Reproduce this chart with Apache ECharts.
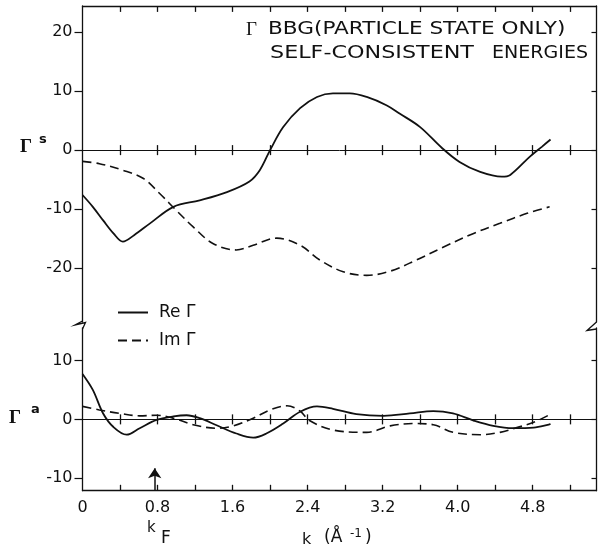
<!DOCTYPE html>
<html>
<head>
<meta charset="utf-8">
<script src="https://cdn.jsdelivr.net/npm/echarts@6/dist/echarts.min.js"></script>
<style>
  html, body { margin: 0; padding: 0; background: #ffffff; }
  #chart { width: 598px; height: 557px; }
</style>
</head>
<body>
<div id="chart"></div>
<script>
// Γ^s (upper panel): real and imaginary parts versus k (Å^-1)
const kReS = [0, 0.11, 0.22, 0.33, 0.43, 0.55, 0.72, 0.97, 1.25, 1.54, 1.78, 1.89, 2.0, 2.14, 2.32, 2.5, 2.67, 2.85, 3.03, 3.24, 3.38, 3.6, 3.83, 4.02, 4.24, 4.47, 4.56, 4.77, 4.9, 4.99];
const reS  = [-7.6, -9.6, -11.9, -14.1, -15.5, -14.4, -12.4, -9.6, -8.5, -7.1, -5.3, -3.4, 0, 3.9, 7.1, 9.0, 9.6, 9.6, 9.0, 7.6, 6.2, 3.9, 0.4, -2.0, -3.7, -4.5, -4.2, -1.1, 0.6, 1.8];
const kImS = [0, 0.18, 0.43, 0.65, 0.82, 1.0, 1.18, 1.39, 1.64, 1.82, 2.07, 2.32, 2.53, 2.78, 3.03, 3.28, 3.56, 3.85, 4.17, 4.45, 4.74, 4.98];
const imS  = [-1.9, -2.3, -3.4, -4.8, -7.3, -10.2, -13.0, -15.8, -16.9, -16.1, -14.9, -16.1, -18.6, -20.6, -21.2, -20.5, -18.6, -16.4, -14.1, -12.4, -10.7, -9.6];

// Γ^a (lower panel)
const kReA = [0, 0.11, 0.22, 0.33, 0.47, 0.61, 0.79, 0.97, 1.11, 1.25, 1.43, 1.64, 1.82, 1.96, 2.14, 2.32, 2.5, 2.67, 2.92, 3.21, 3.49, 3.74, 3.95, 4.17, 4.38, 4.59, 4.81, 4.99];
const reA  = [7.7, 5.0, 1.0, -1.3, -2.6, -1.5, -0.1, 0.5, 0.7, 0.2, -1.0, -2.4, -3.1, -2.4, -0.7, 1.3, 2.2, 1.8, 0.9, 0.6, 1.0, 1.4, 1.0, -0.2, -1.1, -1.5, -1.4, -0.8];
const kImA = [0, 0.18, 0.4, 0.61, 0.79, 0.97, 1.18, 1.43, 1.61, 1.82, 2.0, 2.18, 2.32, 2.42, 2.67, 3.03, 3.28, 3.53, 3.74, 3.95, 4.24, 4.45, 4.63, 4.81, 4.98];
const imA  = [2.2, 1.6, 1.0, 0.6, 0.7, 0.2, -0.9, -1.5, -1.1, 0.2, 1.6, 2.3, 1.4, -0.2, -1.8, -2.2, -1.1, -0.7, -0.9, -2.2, -2.6, -2.2, -1.4, -0.5, 0.8];

// Fermi momentum marker
const kF = 0.77;

// axis ticks and labels
const xTicks = [0.4, 0.8, 1.2, 1.6, 2.0, 2.4, 2.8, 3.2, 3.6, 4.0, 4.4, 4.8, 5.2];
const xTickLabels = [0, 0.8, 1.6, 2.4, 3.2, 4.0, 4.8];
const yTicksS = [-20, -10, 0, 10, 20];
const yTicksA = [-10, 0, 10];
const seriesNames = ['Re Γ', 'Im Γ'];

const INK = '#111111';
const FONT = 'DejaVu Sans';
const pairs = (xs, ys) => xs.map((x, i) => [x, ys[i]]);

const X_RANGE = { min: 0, max: 5.48 };
const S_RANGE = { min: -29.1, max: 24.4 };
const A_RANGE = { min: -12.1, max: 15.5 };

// tick stroke lengths, in y units (about 5-6 px in both panels)
const ZERO_TICK_HALF = 0.85;
const FRAME_TICK = 1.0;

function xAxisDef(gridIndex, position, onZero, extra) {
  return Object.assign({
    type: 'value', gridIndex, position,
    min: X_RANGE.min, max: X_RANGE.max, interval: 0.4,
    splitLine: { show: false },
    axisLabel: { show: false },
    axisTick: { show: false },
    axisLine: {
      show: true, onZero: onZero != null, onZeroAxisIndex: onZero == null ? undefined : onZero,
      lineStyle: { color: INK, width: onZero != null ? 1 : 1.3 }
    }
  }, extra || {});
}
function yAxisDef(gridIndex, position, range, ticks, withLabels) {
  return {
    type: 'value', gridIndex, position, min: range.min, max: range.max,
    splitLine: { show: false },
    axisLine: { show: true, onZero: false, lineStyle: { color: INK, width: 1.3 } },
    axisTick: { show: true, inside: !withLabels, length: withLabels ? 8 : 5, customValues: ticks, lineStyle: { color: INK, width: 1.2 } },
    axisLabel: withLabels
      ? { show: true, customValues: ticks, fontSize: 16, fontFamily: FONT, color: INK, margin: 10 }
      : { show: false }
  };
}

// vertical tick strokes at every xTicks position, from yFrom to yTo
function tickSegments(yFrom, yTo) {
  return xTicks.map(x => [{ coord: [x, yFrom] }, { coord: [x, yTo] }]);
}
function tickMarks(segments) {
  return {
    silent: true, animation: false, symbol: ['none', 'none'],
    lineStyle: { color: INK, type: 'solid', width: 1.3 },
    label: { show: false }, emphasis: { disabled: true },
    data: segments
  };
}

const solid = { color: INK, width: 1.8, type: 'solid' };
const dashed = { color: INK, width: 1.6, type: [9, 5] };
function curve(name, xIdx, yIdx, data, style, extra) {
  return Object.assign({
    name, type: 'line', xAxisIndex: xIdx, yAxisIndex: yIdx,
    data, smooth: 0.35, showSymbol: false, symbol: 'none',
    lineStyle: style, itemStyle: { color: INK }, silent: true, z: 3
  }, extra || {});
}

const option = {
  animation: false,
  grid: [
    { left: 82.5, top: 6, width: 514, height: 316 },
    { left: 82.5, top: 328, width: 514, height: 162.7 }
  ],
  xAxis: [
    xAxisDef(0, 'top', null),
    xAxisDef(0, 'bottom', 0),
    xAxisDef(1, 'bottom', null, {
      axisLabel: {
        show: true, customValues: xTickLabels, fontSize: 16, fontFamily: FONT, color: INK, margin: 9,
        formatter: v => (v === 0 ? '0' : v.toFixed(1))
      }
    }),
    xAxisDef(1, 'bottom', 2)
  ],
  yAxis: [
    yAxisDef(0, 'left', S_RANGE, yTicksS, true),
    yAxisDef(0, 'right', S_RANGE, yTicksS, false),
    yAxisDef(1, 'left', A_RANGE, yTicksA, true),
    yAxisDef(1, 'right', A_RANGE, yTicksA, false)
  ],
  legend: {
    data: seriesNames, orient: 'vertical', left: 117, top: 304, padding: 0,
    itemWidth: 30, itemHeight: 12, itemGap: 11,
    itemStyle: { color: 'rgba(0,0,0,0)', borderColor: 'rgba(0,0,0,0)', borderWidth: 0 },
    textStyle: { fontSize: 17, fontFamily: FONT, color: INK, padding: [0, 0, 0, 6] },
    selectedMode: false
  },
  series: [
    // upper panel; its markLine carries the ticks of the top frame and the zero line
    curve(seriesNames[0], 0, 0, pairs(kReS, reS), solid, {
      markLine: tickMarks(
        tickSegments(-ZERO_TICK_HALF, ZERO_TICK_HALF)
          .concat(tickSegments(S_RANGE.max, S_RANGE.max - FRAME_TICK))
      )
    }),
    curve(seriesNames[1], 0, 0, pairs(kImS, imS), dashed),
    // lower panel; k_F arrow on Re, zero-line and bottom-frame ticks on Im
    curve(seriesNames[0], 2, 2, pairs(kReA, reA), solid, {
      markLine: {
        silent: true, animation: false,
        symbol: ['none', 'arrow'], symbolSize: 10,
        lineStyle: { color: INK, type: 'solid', width: 1.5 },
        label: { show: false },
        data: [[{ coord: [kF, A_RANGE.min] }, { coord: [kF, -8.3] }]]
      }
    }),
    curve(seriesNames[1], 2, 2, pairs(kImA, imA), dashed, {
      markLine: tickMarks(
        tickSegments(-ZERO_TICK_HALF, ZERO_TICK_HALF)
          .concat(tickSegments(A_RANGE.min, A_RANGE.min + FRAME_TICK))
      )
    })
  ],
  graphic: [
    // titles
    { type: 'text', x: 246, y: 30, style: { text: 'Γ', fontSize: 19, fontFamily: 'Liberation Serif', fill: INK, verticalAlign: 'middle' } },
    { type: 'text', x: 268, y: 30, scaleX: 1.27, style: { text: 'BBG(PARTICLE STATE ONLY)', fontSize: 17, fontFamily: FONT, fill: INK, verticalAlign: 'middle' } },
    { type: 'text', x: 270, y: 54, scaleX: 1.31, style: { text: 'SELF-CONSISTENT', fontSize: 17, fontFamily: FONT, fill: INK, verticalAlign: 'middle' } },
    { type: 'text', x: 492, y: 54, scaleX: 1.12, style: { text: 'ENERGIES', fontSize: 17, fontFamily: FONT, fill: INK, verticalAlign: 'middle' } },
    // panel labels
    { type: 'text', x: 20, y: 147, style: { text: 'Γ', fontSize: 19, fontFamily: 'Liberation Serif', fontWeight: 'bold', fill: INK, verticalAlign: 'middle' } },
    { type: 'text', x: 39, y: 140, style: { text: 's', fontSize: 13, fontFamily: FONT, fontWeight: 'bold', fill: INK, verticalAlign: 'middle' } },
    { type: 'text', x: 9, y: 418, style: { text: 'Γ', fontSize: 19, fontFamily: 'Liberation Serif', fontWeight: 'bold', fill: INK, verticalAlign: 'middle' } },
    { type: 'text', x: 31, y: 410, style: { text: 'a', fontSize: 13, fontFamily: FONT, fontWeight: 'bold', fill: INK, verticalAlign: 'middle' } },
    // k_F label
    { type: 'text', x: 147, y: 528, style: { text: 'k', fontSize: 15, fontFamily: FONT, fill: INK, verticalAlign: 'middle' } },
    { type: 'text', x: 161, y: 539, style: { text: 'F', fontSize: 17, fontFamily: FONT, fill: INK, verticalAlign: 'middle' } },
    // x axis title: k (Å^-1)
    { type: 'text', x: 302, y: 540, style: { text: 'k', fontSize: 16, fontFamily: FONT, fill: INK, verticalAlign: 'middle' } },
    { type: 'text', x: 324, y: 538, style: { text: '(Å', fontSize: 17, fontFamily: FONT, fill: INK, verticalAlign: 'middle' } },
    { type: 'text', x: 350, y: 534, style: { text: '-1', fontSize: 12, fontFamily: FONT, fill: INK, verticalAlign: 'middle' } },
    { type: 'text', x: 365, y: 538, style: { text: ')', fontSize: 17, fontFamily: FONT, fill: INK, verticalAlign: 'middle' } },
    // axis break marks
    { type: 'polyline', shape: { points: [[82.5, 321], [75, 325], [85.5, 322.5], [82.5, 329]] }, style: { stroke: INK, lineWidth: 1.3, fill: 'none' } },
    { type: 'polyline', shape: { points: [[596.5, 322], [587, 330.5], [596.5, 329]] }, style: { stroke: INK, lineWidth: 1.3, fill: 'none' } }
  ]
};

const chart = echarts.init(document.getElementById('chart'), null, { renderer: 'canvas' });
chart.setOption(option);
</script>
</body>
</html>
